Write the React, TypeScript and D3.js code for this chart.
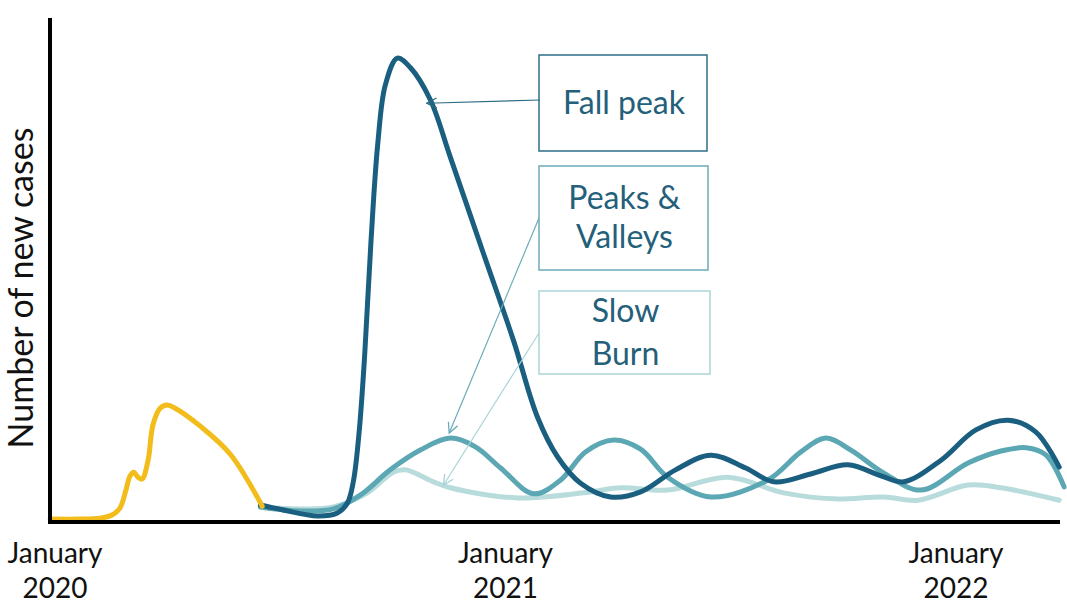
import React from "react";
import * as d3 from "d3";

// months since January 2020 -> relative number of new cases (0-100)
const firstWaveMonths = [-0.13, 0.67, 1.2, 1.52, 1.73, 1.89, 2.0, 2.1, 2.21, 2.32, 2.48, 2.61, 2.8, 2.99, 3.2, 3.87, 4.67, 5.52];
const firstWaveValues = [0.2, 0.2, 0.4, 1.1, 2.6, 6.5, 9.6, 10.4, 9.3, 8.9, 13.0, 20.7, 24.3, 25.0, 24.3, 20.4, 14.3, 3.0];

const fallPeakMonths = [5.47, 6.08, 6.99, 7.52, 7.79, 7.95, 8.1, 8.25, 8.42, 8.6, 8.8, 9.12, 9.47, 10.0, 10.53, 11.41, 12.21, 12.85, 13.39, 14.0, 14.8, 15.6, 16.53, 17.47, 18.4, 19.15, 20.13, 21.12, 22.0, 22.61, 23.6, 24.53, 25.39, 26.13, 26.75];
const fallPeakValues = [3.26, 2.17, 0.87, 1.52, 3.7, 8.5, 19.0, 36.0, 61.0, 82.0, 94.6, 100.4, 98.3, 91.3, 78.9, 58.0, 39.1, 22.4, 13.7, 8.0, 5.0, 6.1, 10.9, 14.1, 11.3, 8.3, 10.0, 12.0, 9.6, 8.3, 13.0, 19.6, 21.7, 19.1, 11.5];

const peaksMonths = [5.47, 6.53, 7.41, 8.13, 8.93, 9.73, 10.53, 11.2, 11.87, 12.75, 13.47, 14.13, 14.88, 15.6, 16.32, 17.47, 18.99, 19.87, 20.53, 21.2, 22.08, 23.07, 24.32, 25.2, 25.87, 26.4, 26.88];
const peaksValues = [2.83, 1.96, 2.4, 5.4, 10.9, 15.2, 17.8, 15.9, 11.3, 5.7, 8.7, 14.8, 17.4, 15.4, 9.3, 5.0, 8.7, 14.8, 17.8, 15.2, 10.2, 6.5, 12.4, 15.0, 15.7, 14.1, 7.2];

const slowMonths = [5.47, 6.53, 7.41, 8.32, 9.01, 9.33, 10.08, 10.53, 12.32, 14.08, 15.07, 16.32, 17.92, 19.41, 20.75, 22.08, 22.99, 24.32, 25.2, 26.75];
const slowValues = [2.83, 2.4, 2.83, 5.9, 10.4, 10.9, 8.3, 7.0, 4.8, 5.9, 7.0, 6.5, 9.3, 5.9, 4.6, 5.0, 4.3, 7.6, 7.0, 4.3];

const tickMonths = [0, 12, 24];
const tickMonthLabels = ["January", "January", "January"];
const tickYearLabels = ["2020", "2021", "2022"];

const yAxisLabel = "Number of new cases";

// annotation boxes: label lines and the (month, value) point each arrow targets
const boxLines = [["Fall peak"], ["Peaks &", "Valleys"], ["Slow", "Burn"]];
const arrowTargetMonths = [9.9, 10.5, 10.35];
const arrowTargetValues = [90.6, 18.9, 7.6];

const COLORS = {
  firstWave: "#F2BC1B",
  fall: "#1A5F80",
  peaks: "#5CA7B4",
  slow: "#B8DCDC",
};
const boxStroke = ["#2C6D86", "#6DABB8", "#A9D3D6"];
const boxText = "#24607A";
const arrowColors = ["#2C6D86", "#6DABB8", "#A9D3D6"];

const W = 1067;
const H = 605;
const FONT = "Lato, 'Open Sans', sans-serif";

export default function App() {
  const x = d3.scaleLinear().domain([0, 24]).range([55, 956]);
  const y = d3.scaleLinear().domain([0, 100]).range([520, 60]);

  const mk = (ms: number[], vs: number[]) =>
    d3
      .line<number>()
      .x((_, i) => x(ms[i]))
      .y((v) => y(v))
      .curve(d3.curveCatmullRom.alpha(0.5))(vs) as string;

  const series = [
    { d: mk(slowMonths, slowValues), c: COLORS.slow },
    { d: mk(peaksMonths, peaksValues), c: COLORS.peaks },
    { d: mk(fallPeakMonths, fallPeakValues), c: COLORS.fall },
    { d: mk(firstWaveMonths, firstWaveValues), c: COLORS.firstWave },
  ];

  const axisY = y(0) + 2;
  const axisLeft = 50;
  const axisRight = 1060;
  const axisTop = 18;

  // box layout
  const boxes = [
    { x0: 539, y0: 55, x1: 707, y1: 151, base: [114], from: [540, 100] },
    { x0: 539, y0: 166, x1: 708, y1: 270, base: [209, 248], from: [539, 218] },
    { x0: 539, y0: 291, x1: 710, y1: 374, base: [322, 365], from: [539, 333] },
  ];

  return (
    <svg
      width={W}
      height={H}
      style={{ position: "absolute", left: 0, top: 0, background: "#fff" }}
      fontFamily={FONT}
    >
      <defs>
        {arrowColors.map((c, i) => (
          <marker
            key={i}
            id={`arr${i}`}
            viewBox="0 0 12 12"
            refX={11}
            refY={6}
            markerWidth={12}
            markerHeight={12}
            markerUnits="userSpaceOnUse"
            orient="auto"
          >
            <path d="M1,1 L11,6 L1,11" fill="none" stroke={c} strokeWidth={1.3} />
          </marker>
        ))}
      </defs>

      {/* series */}
      {series.map((s, i) => (
        <path
          key={i}
          d={s.d}
          fill="none"
          stroke={s.c}
          strokeWidth={5}
          strokeLinecap="round"
          strokeLinejoin="round"
        />
      ))}

      {/* axes */}
      <line x1={axisLeft} y1={axisTop} x2={axisLeft} y2={axisY + 2} stroke="#000" strokeWidth={4} />
      <line x1={axisLeft - 2} y1={axisY} x2={axisRight} y2={axisY} stroke="#000" strokeWidth={4} />

      {/* x tick labels */}
      {tickMonths.map((m, i) => (
        <g key={i}>
          <text x={x(m)} y={563} textAnchor="middle" fontSize={28} fill="#111">
            {tickMonthLabels[i]}
          </text>
          <text x={x(m)} y={598} textAnchor="middle" fontSize={28} fill="#111">
            {tickYearLabels[i]}
          </text>
        </g>
      ))}

      {/* y label */}
      <text
        transform={`translate(33,288) rotate(-90)`}
        textAnchor="middle"
        fontSize={34}
        fill="#111"
      >
        {yAxisLabel}
      </text>

      {/* annotation boxes */}
      {boxes.map((b, i) => (
        <g key={i}>
          <rect
            x={b.x0}
            y={b.y0}
            width={b.x1 - b.x0}
            height={b.y1 - b.y0}
            fill="#fff"
            stroke={boxStroke[i]}
            strokeWidth={1.5}
          />
          {boxLines[i].map((t, j) => (
            <text
              key={j}
              x={(b.x0 + b.x1) / 2 + 1}
              y={b.base[j]}
              textAnchor="middle"
              fontSize={32}
              fill={boxText}
            >
              {t}
            </text>
          ))}
          <line
            x1={b.from[0]}
            y1={b.from[1]}
            x2={x(arrowTargetMonths[i])}
            y2={y(arrowTargetValues[i])}
            stroke={arrowColors[i]}
            strokeWidth={1.2}
            markerEnd={`url(#arr${i})`}
          />
        </g>
      ))}
    </svg>
  );
}
